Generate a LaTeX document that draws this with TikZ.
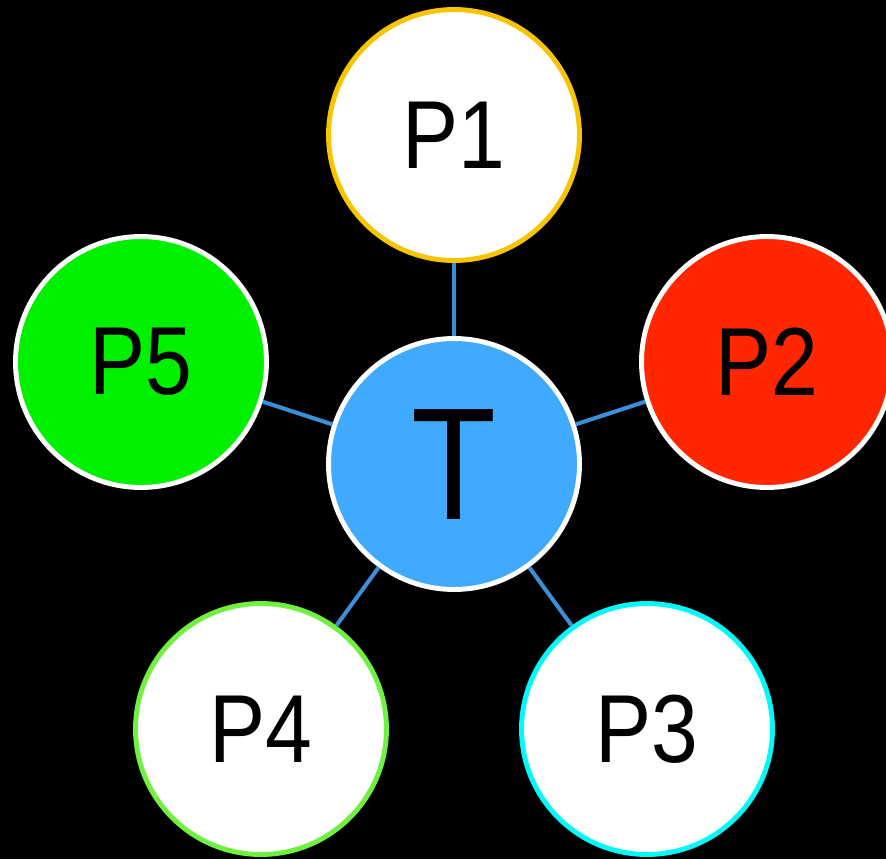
\documentclass[tikz,border=0pt]{standalone}
\usepackage{fontspec}
\setmainfont{Liberation Sans}
\usepackage{graphicx}
\usepackage{tikz}

\definecolor{tblue}{RGB}{64,170,255}
\definecolor{linkblue}{RGB}{58,143,216}
\definecolor{ringyellow}{RGB}{248,196,0}
\definecolor{ringcyan}{RGB}{0,250,250}
\definecolor{ringlime}{RGB}{112,240,64}
\definecolor{fillgreen}{RGB}{0,240,0}
\definecolor{fillred}{RGB}{255,38,0}

\newcommand{\narrow}[1]{\scalebox{.87}[1]{#1}}

\begin{document}
\begin{tikzpicture}
    [x = .02cm, y = -.02cm,
     every node/.style = {circle, minimum size = 5.02cm, inner sep = 0pt,
                          line width = 2.8pt, text = black,
                          font = \fontsize{55}{60}\selectfont}]
    \clip (0,0) rectangle (886,859);
    \fill[black] (0,0) rectangle (886,859);
    \node[draw = white, fill = tblue, font = \fontsize{91}{96}\selectfont] (t) at (454,464) {\narrow{T}};
    \node[draw = ringyellow, fill = white] (p1) at (454,135) {\narrow{P1}};
    \node[draw = white, fill = fillred] (p2) at (767,362) {\narrow{P2}};
    \node[draw = ringcyan, fill = white] (p3) at (647,729) {\narrow{P3}};
    \node[draw = ringlime, fill = white] (p4) at (261,729) {\narrow{P4}};
    \node[draw = white, fill = fillgreen] (p5) at (141,362) {\narrow{P5}};
    \foreach \to in {p1,p2,p3,p4,p5}
      \draw[linkblue, line width = 2.3pt] (t) -- (\to);
  \end{tikzpicture}
\end{document}
